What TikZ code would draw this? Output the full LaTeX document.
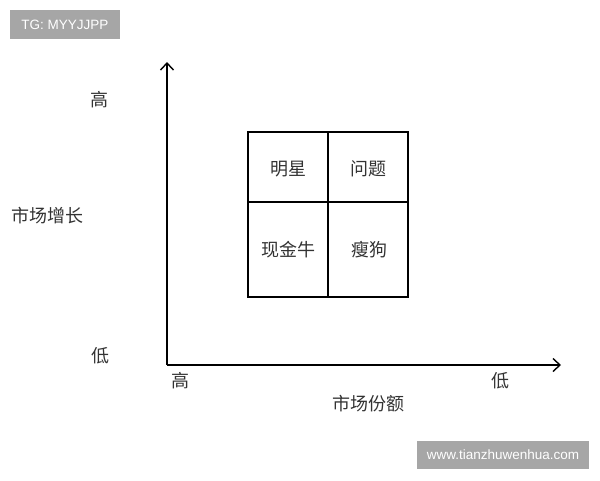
\documentclass[tikz,border=0pt]{standalone}
\usepackage{fontspec}
\newfontfamily\cjk{Noto Sans CJK SC}
\setsansfont{Liberation Sans}
\usetikzlibrary{arrows.meta}
\begin{document}
\begin{tikzpicture}[x=1pt,y=-1pt,
    etiqueta/.style={font=\cjk\fontsize{18}{18}\selectfont,text=black!80,inner sep=0pt},
    marca/.style={fill=black!35,text=white,font=\sffamily\fontsize{13.5}{13.5}\selectfont}]
        %colores
        \colorlet{caja}{black}

        % Marco
        \useasboundingbox (0,0) rectangle (600,480);

        % Marcas de agua
        \node[marca,minimum width=110,minimum height=29] (tg) at (65,24.5) {TG: MYYJJPP};
        \node[marca,minimum width=172,minimum height=28] (web) at (503,455) {www.tianzhuwenhua.com};

        %Ejes
        \coordinate (origen) at (167,365);
        \coordinate (arriba) at (167,62);
        \coordinate (derecha) at (561,365);
        \draw[line width=1.4pt,-{Straight Barb[length=7pt,width=13pt,line width=1.4pt]}] (origen) -- (arriba);
        \draw[line width=1.4pt,-{Straight Barb[length=7pt,width=13pt,line width=1.4pt]}] (origen) -- (derecha);

        % Matriz
        \draw[caja,line width=2.4pt] (248,132) rectangle (408,297);
        \draw[caja,line width=2.4pt] (328,132) -- (328,297);
        \draw[caja,line width=2.4pt] (248,202) -- (408,202);

        % Cuadrantes
        \node[etiqueta] (estrella) at (288,169) {明星};
        \node[etiqueta] (pregunta) at (368,169) {问题};
        \node[etiqueta] (vaca) at (288,250) {现金牛};
        \node[etiqueta] (perro) at (369,250) {瘦狗};

        % Etiquetas de ejes
        \node[etiqueta] (yalto) at (99,100) {高};
        \node[etiqueta] (ybajo) at (100,356) {低};
        \node[etiqueta] (ytexto) at (47,216) {市场增长};
        \node[etiqueta] (xalto) at (180,381) {高};
        \node[etiqueta] (xbajo) at (500,381) {低};
        \node[etiqueta] (xtexto) at (368,404) {市场份额};
\end{tikzpicture}
\end{document}
